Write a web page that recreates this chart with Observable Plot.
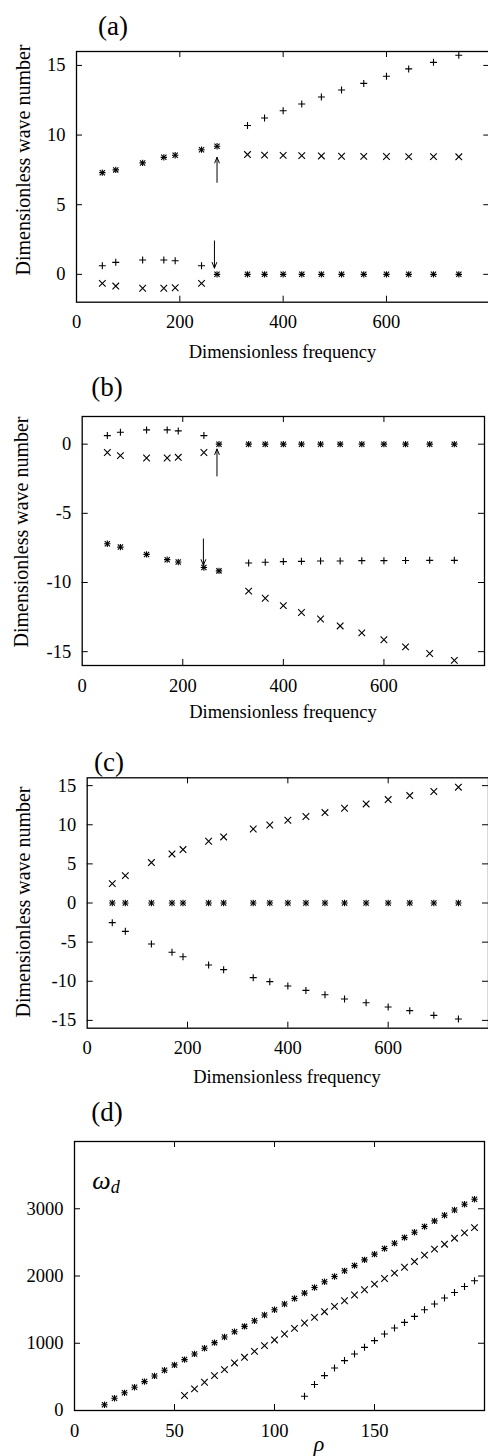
<!DOCTYPE html>
<html><head><meta charset="utf-8">
<script src="https://cdn.jsdelivr.net/npm/d3@7"></script>
<script src="https://cdn.jsdelivr.net/npm/@observablehq/plot@0.6"></script>
<style>
html,body{margin:0;padding:0;background:#fff;overflow:hidden;}
#root{position:relative;width:488px;height:1456px;overflow:hidden;background:#fff;font-family:"Liberation Serif","Times New Roman",serif;color:#000;}
.lbl{position:absolute;white-space:nowrap;transform:translate(-50%,-50%);line-height:1;}
.ylab{position:absolute;white-space:nowrap;transform:translate(-50%,-50%) rotate(-90deg);line-height:1;}
#root svg text{font-family:"Liberation Serif","Times New Roman",serif;}
</style></head><body><div id="root"></div>
<script>
// ---------- data ----------
const freq = [50, 76, 128, 169, 191, 242, 272, 331, 364, 400, 436, 474, 513, 556, 600, 643, 691, 740];
const freqLow = freq.slice(0, 6);     // 50 .. 242
const freqMid = freq.slice(0, 7);     // 50 .. 272
const freqTail = freq.slice(6);       // 272 .. 740
const freqHigh = freq.slice(7);       // 331 .. 740

// panel (a)
const aStarUpper = [7.3, 7.5, 8.0, 8.4, 8.55, 8.95, 9.2];
const aPlusLow = [0.62, 0.86, 1.03, 1.03, 0.98, 0.62];
const aTimesLow = [-0.65, -0.84, -1.0, -1.0, -0.96, -0.65];
const aStarZero = [0, 0, 0, 0, 0, 0, 0, 0, 0, 0, 0, 0];
const aPlusHigh = [10.69, 11.22, 11.75, 12.23, 12.73, 13.24, 13.71, 14.22, 14.75, 15.22, 15.73];
const aTimesFlat = [8.6, 8.56, 8.54, 8.52, 8.5, 8.48, 8.47, 8.46, 8.45, 8.45, 8.44];
const aArrows = [{x1: 272, y1: 6.6, x2: 272, y2: 8.4}, {x1: 267, y1: 2.4, x2: 267, y2: 0.45}];

// panel (b)
const bStarLower = [-7.2, -7.44, -7.97, -8.35, -8.52, -8.92, -9.16];
const bPlusLow = [0.62, 0.86, 1.03, 1.03, 0.96, 0.62];
const bTimesLow = [-0.6, -0.83, -1.0, -1.0, -0.95, -0.6];
const bStarZero = [0, 0, 0, 0, 0, 0, 0, 0, 0, 0, 0, 0];
const bPlusFlat = [-8.59, -8.54, -8.49, -8.47, -8.45, -8.45, -8.42, -8.42, -8.41, -8.4, -8.4];
const bTimesHigh = [-10.62, -11.14, -11.67, -12.17, -12.64, -13.14, -13.64, -14.14, -14.65, -15.13, -15.63];
const bArrows = [{x1: 268, y1: -2.3, x2: 268, y2: -0.35}, {x1: 241, y1: -6.85, x2: 241, y2: -8.75}];

// panel (c)
const cTimes = [2.48, 3.5, 5.17, 6.27, 6.83, 7.89, 8.44, 9.46, 9.97, 10.58, 11.05, 11.56, 12.11, 12.66, 13.22, 13.73, 14.25, 14.8];
const cPlus = [-2.51, -3.62, -5.24, -6.3, -6.86, -7.92, -8.52, -9.54, -10.05, -10.61, -11.17, -11.72, -12.27, -12.74, -13.3, -13.76, -14.36, -14.83];
const cStar = [0, 0, 0, 0, 0, 0, 0, 0, 0, 0, 0, 0, 0, 0, 0, 0, 0, 0];

// panel (d)
const rhoStar = [15, 20, 25, 30, 35, 40, 45, 50, 55, 60, 65, 70, 75, 80, 85, 90, 95, 100, 105, 110, 115, 120, 125, 130, 135, 140, 145, 150, 155, 160, 165, 170, 175, 180, 185, 190, 195, 200];
const dStar = [85, 183, 263, 346, 430, 514, 598, 678, 757, 841, 925, 1009, 1093, 1172, 1251, 1335, 1420, 1498, 1583, 1666, 1746, 1829, 1914, 1993, 2077, 2155, 2240, 2325, 2408, 2488, 2571, 2651, 2735, 2819, 2903, 2982, 3067, 3141];
const rhoTimes = [55, 60, 65, 70, 75, 80, 85, 90, 95, 100, 105, 110, 115, 120, 125, 130, 135, 140, 145, 150, 155, 160, 165, 170, 175, 180, 185, 190, 195, 200];
const dTimes = [223, 322, 420, 519, 608, 707, 791, 880, 964, 1049, 1138, 1221, 1301, 1384, 1469, 1548, 1632, 1717, 1795, 1880, 1963, 2043, 2130, 2215, 2310, 2399, 2473, 2562, 2641, 2720];
const rhoPlus = [115, 120, 125, 130, 135, 140, 145, 150, 155, 160, 165, 170, 175, 180, 185, 190, 195, 200];
const dPlus = [212, 386, 519, 633, 742, 841, 939, 1039, 1138, 1227, 1310, 1399, 1499, 1583, 1672, 1755, 1844, 1929];

// tick values
const freqTickLabels = [0, 200, 400, 600];
const freqTickMarks = [200, 400, 600];
const aYTicks = [0, 5, 10, 15];
const bYTicks = [0, -5, -10, -15];
const cYTicks = [-15, -10, -5, 0, 5, 10, 15];
const dXTicks = [0, 50, 100, 150];
const dXTickMarks = [50, 100, 150];
const dYTicks = [0, 1000, 2000, 3000];

// ---------- helpers ----------
const pts = (xs, ys) => xs.map((x, i) => ({x, y: ys[i]}));
const root = document.getElementById("root");
const FONT = '"Liberation Serif","Times New Roman",serif';

function markers(plus, times, star) {
  const st = {x: "x", y: "y", stroke: "black", strokeWidth: 1.1, fill: "none"};
  return [
    Plot.dot(plus, {...st, symbol: "plus", r: 2.39}),
    Plot.dot(times, {...st, symbol: "times", r: 3.1}),
    Plot.dot(star, {...st, symbol: "plus", r: 2.2}),
    Plot.dot(star, {...st, symbol: "times", r: 2.5})
  ];
}

function panel(g) {
  const W = 490;
  const ph = g.frameBottom - g.frameTop, pw = g.frameRight - g.frameLeft;
  const plot = Plot.plot({
    width: W,
    height: g.height,
    marginTop: g.frameTop - g.top,
    marginBottom: g.top + g.height - g.frameBottom,
    marginLeft: g.frameLeft,
    marginRight: W - g.frameRight,
    x: {domain: g.xDomain},
    y: {domain: g.yDomain},
    style: {fontFamily: FONT, fontSize: "18.5px", background: "transparent", overflow: "visible", maxWidth: "none", position: "absolute", left: "0px", top: g.top + "px", color: "black"},
    marks: [
      Plot.axisX(g.xTicks, {anchor: "bottom", tickSize: 0, tickPadding: 13, label: null, tickFormat: d => String(d), fontSize: 18.5, fontFamily: FONT}),
      Plot.axisY(g.yTicks, {anchor: "left", tickSize: 0, tickPadding: 11, label: null, tickFormat: d => String(d), fontSize: 18.5, fontFamily: FONT}),
      Plot.tickX(g.xMarks, {x: d => d, insetTop: ph - 6, stroke: "black"}),
      Plot.tickX(g.xMarks, {x: d => d, insetBottom: ph - 6, stroke: "black"}),
      Plot.tickY(g.yMarks, {y: d => d, insetRight: pw - 6, stroke: "black"}),
      Plot.tickY(g.yMarks, {y: d => d, insetLeft: pw - 6, stroke: "black"}),
      Plot.frame({stroke: "black", strokeWidth: 1.3}),
      ...g.marks
    ]
  });
  root.appendChild(plot);
}

function text(html, x, y, size, cls = "lbl", extra = "") {
  const el = document.createElement("div");
  el.className = cls;
  el.style.left = x + "px";
  el.style.top = y + "px";
  el.style.fontSize = size + "px";
  el.style.cssText += extra;
  el.innerHTML = html;
  root.appendChild(el);
}

const arrowStyle = {x1: "x1", y1: "y1", x2: "x2", y2: "y2", stroke: "black", strokeWidth: 1, headLength: 9, headAngle: 45};

// (a)
panel({
  top: 0, height: 345, frameTop: 51, frameBottom: 301.7, frameLeft: 76, frameRight: 489.3,
  xDomain: [0, 800], yDomain: [-2, 16],
  xTicks: freqTickLabels, yTicks: aYTicks, xMarks: freqTickMarks, yMarks: aYTicks,
  marks: [
    ...markers(
      [...pts(freqLow, aPlusLow), ...pts(freqHigh, aPlusHigh)],
      [...pts(freqLow, aTimesLow), ...pts(freqHigh, aTimesFlat)],
      [...pts(freqMid, aStarUpper), ...pts(freqTail, aStarZero)]
    ),
    Plot.arrow(aArrows, arrowStyle)
  ]
});
// (b)
panel({
  top: 365, height: 365, frameTop: 416, frameBottom: 665, frameLeft: 81.7, frameRight: 484,
  xDomain: [0, 800], yDomain: [-16, 2],
  xTicks: freqTickLabels, yTicks: bYTicks, xMarks: freqTickMarks, yMarks: bYTicks,
  marks: [
    ...markers(
      [...pts(freqLow, bPlusLow), ...pts(freqHigh, bPlusFlat)],
      [...pts(freqLow, bTimesLow), ...pts(freqHigh, bTimesHigh)],
      [...pts(freqMid, bStarLower), ...pts(freqTail, bStarZero)]
    ),
    Plot.arrow(bArrows, arrowStyle)
  ]
});
// (c)
panel({
  top: 730, height: 365, frameTop: 777.3, frameBottom: 1027.7, frameLeft: 86.7, frameRight: 488,
  xDomain: [0, 800], yDomain: [-16, 16],
  xTicks: freqTickLabels, yTicks: cYTicks, xMarks: freqTickMarks, yMarks: cYTicks,
  marks: [
    ...markers(pts(freq, cPlus), pts(freq, cTimes), pts(freq, cStar))
  ]
});
// (d)
panel({
  top: 1090, height: 366, frameTop: 1141, frameBottom: 1410, frameLeft: 74, frameRight: 484,
  xDomain: [0, 205], yDomain: [0, 4000],
  xTicks: dXTicks, yTicks: dYTicks, xMarks: dXTickMarks, yMarks: dYTicks,
  marks: [
    ...markers(pts(rhoPlus, dPlus), pts(rhoTimes, dTimes), pts(rhoStar, dStar))
  ]
});

// labels
text("(a)", 113, 26, 27);
text("(b)", 107, 387, 27);
text("(c)", 109, 762, 27);
text("(d)", 107, 1112, 27);
const yl = "Dimensionless wave number";
text(yl, 23, 160, 20, "ylab");
text(yl, 21, 532, 20, "ylab");
text(yl, 23, 902, 20, "ylab");
const xl = "Dimensionless frequency";
text(xl, 282.5, 352, 18.5);
text(xl, 283, 712, 18.5);
text(xl, 287, 1077, 18.5);
text('<i>ω</i><sub style="font-size:0.7em;vertical-align:-0.25em"><i>d</i></sub>', 106, 1182, 26);
text("<i>ρ</i>", 319, 1444, 22);
</script></body></html>
